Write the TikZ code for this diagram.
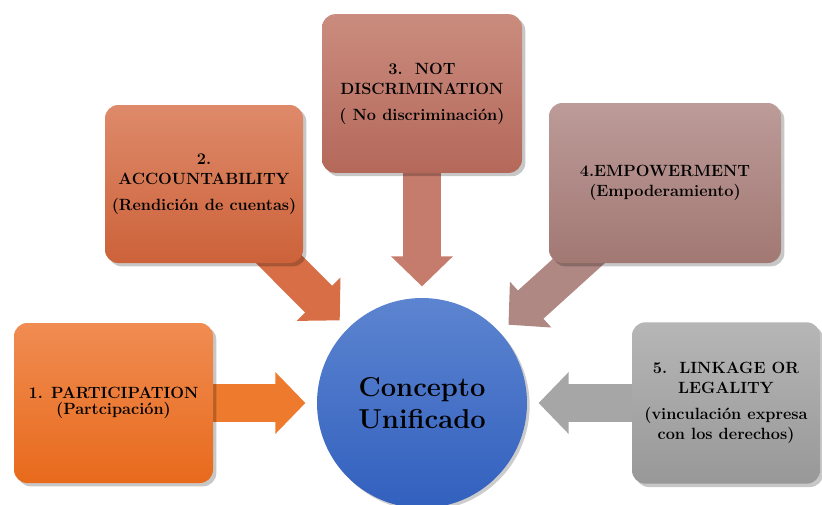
\documentclass[tikz,border=0pt]{standalone}
\usetikzlibrary{arrows.meta, shadows, backgrounds}

\definecolor{partTop}{RGB}{240,140,82}
\definecolor{partBot}{RGB}{232,106,28}
\definecolor{accTop}{RGB}{222,138,106}
\definecolor{accBot}{RGB}{204,98,58}
\definecolor{discTop}{RGB}{202,140,126}
\definecolor{discBot}{RGB}{180,104,90}
\definecolor{empTop}{RGB}{188,155,152}
\definecolor{empBot}{RGB}{162,120,115}
\definecolor{linkTop}{RGB}{182,182,182}
\definecolor{linkBot}{RGB}{152,152,152}
\definecolor{concTop}{RGB}{92,132,208}
\definecolor{concBot}{RGB}{50,96,190}
\definecolor{partArr}{RGB}{238,122,46}
\definecolor{accArr}{RGB}{216,110,70}
\definecolor{discArr}{RGB}{198,124,108}
\definecolor{empArr}{RGB}{176,136,131}
\definecolor{linkArr}{RGB}{166,166,166}

\tikzset{
  card/.style={rounded corners=10pt, inner sep=0pt, align=center,
    font=\fontsize{12.2}{15}\selectfont\bfseries,
    drop shadow={shadow xshift=2.5pt, shadow yshift=-2.5pt, opacity=.22, fill=black}},
  concept/.style={circle, inner sep=0pt, minimum size=157.5pt, align=center,
    top color=concTop, bottom color=concBot,
    font=\fontsize{20.5}{24}\selectfont\bfseries,
    drop shadow={shadow xshift=2pt, shadow yshift=-2pt, opacity=.2, fill=black}},
  feed/.style={line width=28.5pt, draw=#1, shorten >=8.5pt,
    -{Triangle[length=22.5pt, width=45pt]}}
}

\begin{document}
\begin{tikzpicture}[x=0.75pt,y=0.75pt,yscale=-1,xscale=1]
\useasboundingbox (0,0) rectangle (822,504);

% Circle
\node [concept] (conc) at (422,403) {Concepto\\Unificado};

% Text Node
\node [card, minimum width=149.25pt, minimum height=120pt, top color=partTop, bottom color=partBot]
  (part) at (113.5,403) {1. PARTICIPATION\\[-3pt](Partcipación)};
% Text Node
\node [card, minimum width=148.5pt, minimum height=118.5pt, top color=accTop, bottom color=accBot]
  (acc) at (204,184) {2.\\ACCOUNTABILITY\\[4.5pt](Rendición de cuentas)};
% Text Node
\node [card, minimum width=150pt, minimum height=119pt, top color=discTop, bottom color=discBot]
  (disc) at (422,93.5) {3.\ \ NOT\\DISCRIMINATION\\[4.5pt]( No discriminación)};
% Text Node
\node [card, minimum width=174pt, minimum height=120pt, top color=empTop, bottom color=empBot]
  (emp) at (665,183) {4.EMPOWERMENT\\(Empoderamiento)};
% Text Node
\node [card, minimum width=141pt, minimum height=121pt, top color=linkTop, bottom color=linkBot]
  (link) at (726,403) {5.\ \ LINKAGE OR\\LEGALITY\\[4pt](vinculación expresa\\con los derechos)};

%Block Arrows
\begin{scope}[on background layer]
\draw [feed=partArr] (part.center) -- (conc);
\draw [feed=accArr] (acc.center) -- (conc);
\draw [feed=discArr] (disc.center) -- (conc);
\draw [feed=empArr] (emp.center) -- (conc);
\draw [feed=linkArr] (link.center) -- (conc);
\end{scope}

\end{tikzpicture}
\end{document}
